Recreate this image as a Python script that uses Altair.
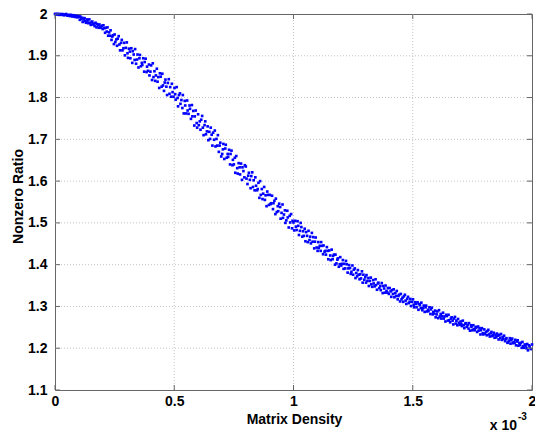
import altair as alt
import pandas as pd

# Matrix density in units of 1e-6 (axis shows x 10^-3), nonzero ratio in units of 1e-3
X_A = [0,3,7,10,13,17,20,23,27,30,33,37,40,43,47,50,53,57,60,63,67,70,73,77,80,83,87,90,93,97,
       101,104,106,110,114,116,120,124,126,130,134,136,140,144,146,150,154,156,160,164,166,170,174,176,180,184,186,190,194,196,
       200,203,207,210,213,217,220,223,227,230,233,237,240,243,247,250,253,257,260,263,267,270,273,277,280,283,287,290,293,297,
       301,304,306,310,314,316,320,324,326,330,334,336,340,344,346,350,354,356,360,364,366,370,374,376,380,384,386,390,394,396,
       400,403,407,410,413,417,420,423,427,430,433,437,440,443,447,450,453,457,460,463,467,470,473,477,480,483,487,490,493,497]
Y_A = [2000,2000,1999,2000,2000,1998,2000,1999,1998,2000,1999,1997,1999,1998,2000,1997,1996,1998,1997,1995,1998,1996,1994,1997,1995,1993,1996,1994,1992,1995,
       1993,1986,1994,1988,1991,1981,1987,1990,1983,1979,1987,1982,1978,1987,1979,1974,1980,1982,1975,1977,1971,1979,1968,1976,1973,1967,1975,1969,1967,1972,
       1964,1973,1966,1955,1967,1958,1968,1948,1956,1948,1961,1938,1946,1949,1928,1951,1933,1939,1924,1941,1947,1927,1913,1931,1938,1913,1918,1931,1901,1919,
       1932,1906,1895,1917,1910,1894,1918,1883,1911,1903,1890,1916,1881,1891,1903,1872,1894,1902,1875,1883,1878,1894,1862,1885,1893,1861,1874,1864,1879,1853,
       1862,1877,1842,1882,1849,1863,1840,1853,1869,1838,1849,1823,1858,1850,1826,1857,1829,1816,1836,1843,1826,1806,1835,1844,1809,1825,1802,1833,1813,1802]

X_B = [501,504,506,510,514,516,520,524,526,530,534,536,540,544,546,550,554,556,560,564,566,570,574,576,580,584,586,590,594,596,
       600,603,607,610,613,617,620,623,627,630,633,637,640,643,647,650,653,657,660,663,667,670,673,677,680,683,687,690,693,697,
       701,704,706,710,714,716,720,724,726,730,734,736,740,744,746,750,754,756,760,764,766,770,774,776,780,784,786,790,794,796,
       800,803,807,810,813,817,820,823,827,830,833,837,840,843,847,850,853,857,860,863,867,870,873,877,880,883,887,890,893,897,
       901,904,906,910,914,916,920,924,926,930,934,936,940,944,946,950,954,956,960,964,966,970,974,976,980,984,986,990,994,996]
Y_B = [1823,1808,1795,1825,1799,1779,1806,1810,1785,1794,1775,1806,1762,1792,1781,1762,1793,1769,1761,1781,1773,1749,1782,1755,1768,1733,1755,1769,1739,1728,
       1760,1734,1743,1723,1747,1756,1728,1710,1734,1743,1712,1719,1731,1698,1718,1701,1728,1711,1685,1716,1699,1721,1683,1701,1685,1710,1670,1685,1692,1659,
       1665,1676,1689,1653,1678,1687,1656,1665,1658,1675,1640,1665,1673,1638,1651,1640,1656,1620,1660,1631,1618,1643,1633,1616,1642,1603,1633,1624,1609,1638,
       1635,1606,1593,1613,1620,1603,1583,1612,1621,1586,1602,1578,1609,1589,1578,1581,1596,1560,1600,1567,1581,1557,1570,1586,1555,1566,1540,1575,1567,1543,
       1567,1545,1547,1565,1533,1547,1553,1521,1558,1526,1540,1528,1546,1538,1510,1524,1544,1512,1520,1530,1500,1506,1529,1513,1489,1517,1501,1521,1487,1505]

X_C = [1000,1003,1007,1010,1013,1017,1020,1023,1027,1030,1033,1037,1040,1043,1047,1050,1053,1057,1060,1063,1067,1070,1073,1077,1080,1083,1087,1090,1093,1097,
       1101,1104,1106,1110,1114,1116,1120,1124,1126,1130,1134,1136,1140,1144,1146,1150,1154,1156,1160,1164,1166,1170,1174,1176,1180,1184,1186,1190,1194,1196,
       1200,1203,1207,1210,1213,1217,1220,1223,1227,1230,1233,1237,1240,1243,1247,1250,1253,1257,1260,1263,1267,1270,1273,1277,1280,1283,1287,1290,1293,1297,
       1301,1304,1306,1310,1314,1316,1320,1324,1326,1330,1334,1336,1340,1344,1346,1350,1354,1356,1360,1364,1366,1370,1374,1376,1380,1384,1386,1390,1394,1396,
       1400,1403,1407,1410,1413,1417,1420,1423,1427,1430,1433,1437,1440,1443,1447,1450,1453,1457,1460,1463,1467,1470,1473,1477,1480,1483,1487,1490,1493,1497]
Y_C = [1501,1482,1505,1491,1483,1504,1493,1471,1481,1500,1490,1467,1480,1469,1486,1456,1478,1469,1454,1481,1459,1467,1451,1476,1455,1466,1439,1455,1465,1441,
       1433,1454,1440,1445,1433,1454,1445,1425,1446,1431,1433,1424,1442,1433,1413,1434,1422,1411,1436,1413,1421,1424,1400,1424,1403,1412,1415,1395,1401,1418,
       1398,1402,1411,1390,1402,1391,1409,1401,1381,1391,1399,1392,1378,1383,1398,1376,1388,1391,1368,1380,1372,1387,1376,1365,1377,1367,1384,1357,1376,1364,
       1370,1357,1375,1361,1368,1349,1361,1369,1353,1347,1363,1355,1348,1365,1351,1340,1355,1357,1344,1349,1339,1356,1332,1349,1343,1333,1350,1337,1333,1344,
       1330,1344,1336,1323,1339,1330,1341,1322,1332,1325,1337,1317,1325,1328,1312,1330,1317,1321,1311,1324,1328,1314,1306,1318,1323,1308,1311,1318,1301,1311]

X_D = [1501,1504,1506,1510,1514,1516,1520,1524,1526,1530,1534,1536,1540,1544,1546,1550,1554,1556,1560,1564,1566,1570,1574,1576,1580,1584,1586,1590,1594,1596,
       1600,1603,1607,1610,1613,1617,1620,1623,1627,1630,1633,1637,1640,1643,1647,1650,1653,1657,1660,1663,1667,1670,1673,1677,1680,1683,1687,1690,1693,1697,
       1701,1704,1706,1710,1714,1716,1720,1724,1726,1730,1734,1736,1740,1744,1746,1750,1754,1756,1760,1764,1766,1770,1774,1776,1780,1784,1786,1790,1794,1796,
       1800,1803,1807,1810,1813,1817,1820,1823,1827,1830,1833,1837,1840,1843,1847,1850,1853,1857,1860,1863,1867,1870,1873,1877,1880,1883,1887,1890,1893,1897,
       1900,1903,1907,1910,1913,1917,1920,1923,1927,1930,1933,1937,1940,1943,1947,1950,1953,1957,1960,1963,1967,1970,1973,1977,1980,1983,1987,1990,1995,2000]
Y_D = [1317,1304,1298,1310,1306,1298,1310,1292,1306,1303,1296,1309,1291,1296,1302,1287,1298,1302,1288,1292,1289,1298,1282,1293,1297,1281,1287,1283,1290,1274,
       1281,1288,1272,1291,1276,1282,1271,1277,1285,1271,1276,1264,1280,1277,1266,1280,1267,1262,1271,1274,1266,1257,1271,1275,1259,1266,1255,1270,1261,1256,
       1264,1258,1253,1266,1255,1248,1259,1260,1251,1255,1247,1260,1242,1255,1251,1243,1255,1246,1243,1251,1249,1239,1252,1242,1248,1233,1243,1248,1236,1233,
       1245,1235,1239,1231,1241,1244,1233,1228,1236,1239,1229,1231,1237,1225,1232,1226,1235,1230,1221,1232,1225,1234,1220,1227,1222,1230,1217,1222,1224,1213,
       1214,1218,1224,1211,1219,1223,1212,1215,1213,1220,1207,1216,1219,1206,1212,1208,1213,1201,1215,1205,1201,1209,1206,1200,1210,1195,1207,1204,1198,1209]

X_TICKS = [0, 0.5, 1, 1.5, 2]
Y_TICKS = [1.1, 1.2, 1.3, 1.4, 1.5, 1.6, 1.7, 1.8, 1.9, 2.0]
X_GRID = [0.5, 1, 1.5]
Y_GRID = [1.2, 1.3, 1.4, 1.5, 1.6, 1.7, 1.8, 1.9]

xs = X_A + X_B + X_C + X_D
ys = Y_A + Y_B + Y_C + Y_D
df = pd.DataFrame({"density": [v / 1000 for v in xs], "ratio": [v / 1000 for v in ys]})

W, H = 477, 376
FONT = "Liberation Sans"
FRAME = "#666666"
GRIDC = "#c4c4c4"

xscale = alt.Scale(domain=[0, 2], nice=False, zero=False)
yscale = alt.Scale(domain=[1.1, 2.0], nice=False, zero=False)

xaxis = alt.Axis(values=X_TICKS, format="~g", title="Matrix Density", grid=False, domain=False,
                 ticks=False, tickSize=0, labelFlush=False, labelOverlap=False, labelPadding=4,
                 labelFont=FONT, labelFontSize=14, labelFontWeight="bold", labelColor="black",
                 titleFont=FONT, titleFontSize=14, titleFontWeight="bold", titleColor="black",
                 titleX=239, titleY=29, titleBaseline="middle", titleAlign="center")
yaxis = alt.Axis(values=Y_TICKS, format="~g", title="Nonzero Ratio", grid=False, domain=False,
                 ticks=False, tickSize=0, labelFlush=False, labelOverlap=False, labelPadding=8,
                 labelFont=FONT, labelFontSize=14, labelFontWeight="bold", labelColor="black",
                 titleFont=FONT, titleFontSize=14, titleFontWeight="bold", titleColor="black",
                 titleX=-37, titleY=182, titleBaseline="middle", titleAlign="center", titleAngle=270)

xg = pd.DataFrame({"density": X_GRID})
yg = pd.DataFrame({"ratio": Y_GRID})
xt = pd.DataFrame({"density": X_TICKS})
yt = pd.DataFrame({"ratio": Y_TICKS})

X = alt.X("density:Q", scale=xscale, axis=xaxis)
Y = alt.Y("ratio:Q", scale=yscale, axis=yaxis)

vgrid = alt.Chart(xg).mark_rule(color=GRIDC, strokeDash=[1, 2], strokeWidth=1).encode(
    x=X, y=alt.value(0), y2=alt.value(H))
hgrid = alt.Chart(yg).mark_rule(color=GRIDC, strokeDash=[1, 2], strokeWidth=1).encode(
    y=Y, x=alt.value(0), x2=alt.value(W))

points = alt.Chart(df).mark_square(size=7, color="#0000ff", opacity=1).encode(x=X, y=Y)

tb = alt.Chart(xt).mark_rule(color=FRAME, strokeWidth=1).encode(
    x=X, y=alt.value(H), y2=alt.value(H - 5))
tt = alt.Chart(xt).mark_rule(color=FRAME, strokeWidth=1).encode(
    x=X, y=alt.value(0), y2=alt.value(5))
tl = alt.Chart(yt).mark_rule(color=FRAME, strokeWidth=1).encode(
    y=Y, x=alt.value(0), x2=alt.value(5))
tr = alt.Chart(yt).mark_rule(color=FRAME, strokeWidth=1).encode(
    y=Y, x=alt.value(W), x2=alt.value(W - 5))

exp_base = alt.Chart(pd.DataFrame({"t": ["x 10"]})).mark_text(
    align="right", baseline="alphabetic", font=FONT, fontSize=14, fontWeight="bold", color="black"
).encode(x=alt.value(462), y=alt.value(416), text="t:N")
exp_pow = alt.Chart(pd.DataFrame({"t": ["-3"]})).mark_text(
    align="left", baseline="alphabetic", font=FONT, fontSize=10, fontWeight="bold", color="black"
).encode(x=alt.value(463), y=alt.value(406), text="t:N")

chart = alt.layer(vgrid, hgrid, points, tb, tt, tl, tr, exp_base, exp_pow).properties(
    width=W, height=H,
    autosize=alt.AutoSizeParams(type="none"),
    padding={"left": 55, "top": 14, "right": 3, "bottom": 43},
    background="white",
).configure_view(stroke=FRAME, strokeWidth=1)

chart.save("out.html", embed_options={"renderer": "svg", "actions": False})
